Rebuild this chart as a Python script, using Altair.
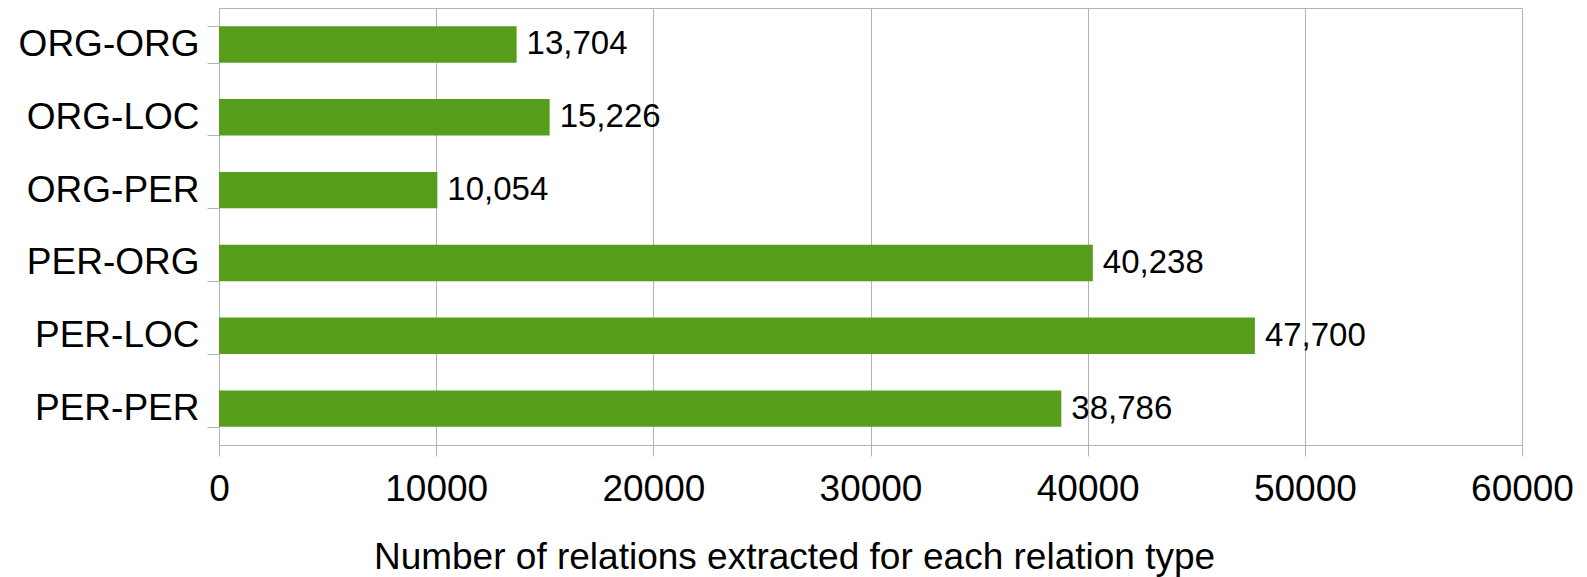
import altair as alt
import pandas as pd

categories = ["ORG-ORG", "ORG-LOC", "ORG-PER", "PER-ORG", "PER-LOC", "PER-PER"]
values = [13704, 15226, 10054, 40238, 47700, 38786]
tick_values = [0, 10000, 20000, 30000, 40000, 50000, 60000]

df = pd.DataFrame({"relation": categories, "count": values})

GRID = "#b3b3b3"
FONT = "Liberation Sans"

y_enc = alt.Y(
    "relation:N",
    sort=categories,
    scale=alt.Scale(paddingInner=0.5, paddingOuter=0.25),
    axis=alt.Axis(
        title=None,
        labelFont=FONT,
        labelFontSize=37,
        labelColor="#000000",
        labelPadding=8,
        labelLimit=0,
        tickSize=12,
        tickColor=GRID,
        domainColor=GRID,
        tickBand="extent",
        grid=False,
    ),
)

x_enc = alt.X(
    "count:Q",
    scale=alt.Scale(domain=[0, 60000], nice=False),
    axis=alt.Axis(
        title="Number of relations extracted for each relation type",
        titleFont=FONT,
        titleFontSize=37,
        titleFontWeight="normal",
        titleColor="#000000",
        titleX=575,
        titleY=123,
        titleAlign="center",
        titleBaseline="alphabetic",
        titleLimit=0,
        values=tick_values,
        format="d",
        labelFont=FONT,
        labelFontSize=37,
        labelColor="#000000",
        labelFlush=False,
        labelBaseline="alphabetic",
        labelPadding=44,
        tickSize=11,
        tickColor=GRID,
        domainColor=GRID,
        gridColor=GRID,
        grid=True,
    ),
)

bars = alt.Chart(df).mark_bar(color="#579d1c").encode(x=x_enc, y=y_enc)

labels = alt.Chart(df).mark_text(
    align="left", baseline="middle", dx=10, font=FONT, fontSize=33, color="#000000"
).encode(
    x=alt.X("count:Q"),
    y=alt.Y("relation:N", sort=categories),
    text=alt.Text("count:Q", format=","),
)

chart = (
    alt.layer(bars, labels)
    .properties(
        width=1303,
        height=437,
        padding={"left": 219, "top": 8, "right": 65, "bottom": 132},
        autosize=alt.AutoSizeParams(type="none"),
        background="white",
    )
    .configure_view(stroke=GRID)
)

chart.save("out.html", embed_options={"renderer": "svg", "actions": False})
